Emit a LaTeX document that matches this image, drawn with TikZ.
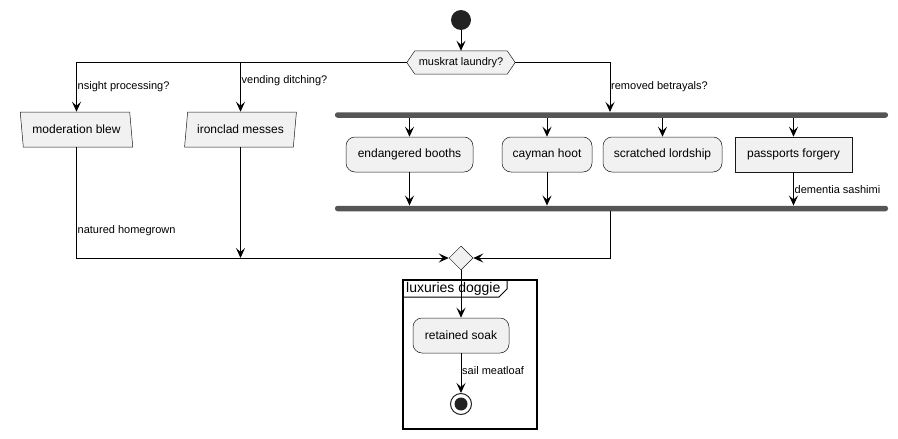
\documentclass[tikz,border=0pt]{standalone}
\usepackage{fontspec}
\setmainfont{Liberation Sans}
\usetikzlibrary{arrows.meta,shapes.geometric,calc}
\definecolor{boxfill}{HTML}{F1F1F1}
\definecolor{boxline}{HTML}{181818}
\definecolor{barcol}{HTML}{555555}
\definecolor{dotcol}{HTML}{222222}
\begin{document}
\begin{tikzpicture}[x=1pt,y=-1pt,
  actfont/.style={font=\fontsize{12}{14}\selectfont},
  lblfont/.style={font=\fontsize{11}{13}\selectfont},
  actbox/.style={draw=boxline, line width=0.5pt, fill=boxfill, rounded corners=9pt,
    minimum height=35pt, inner sep=0pt, actfont},
  plainbox/.style={draw=boxline, line width=0.5pt, fill=boxfill,
    minimum height=35pt, inner sep=0pt, actfont},
  inbox/.style={draw=boxline, line width=0.5pt, fill=boxfill, trapezium,
    trapezium stretches=true, minimum height=35pt, minimum width=113pt, inner sep=0pt, actfont},
  barnode/.style={fill=barcol, rounded corners=2.5pt, minimum width=553pt,
    minimum height=5.5pt, inner sep=0pt},
  lbl/.style={anchor=west, inner sep=1pt, lblfont},
  arr/.style={draw=black, line width=1pt, -{Stealth[length=10pt,width=9pt,inset=4pt]}},
  ln/.style={draw=black, line width=1pt},
]
\useasboundingbox (0,0) rectangle (898,439);

% start
\node[circle, fill=dotcol, minimum size=20pt, inner sep=0pt] (start) at (461,20) {};

% decision
\node[minimum width=108pt, minimum height=23pt, inner sep=0pt, lblfont] (dec) at (461,62.5) {muskrat laundry?};
\draw[draw=boxline, line width=0.5pt, fill=boxfill]
  (dec.west) -- ($(dec.north west)+(8,0)$) -- ($(dec.north east)+(-8,0)$) -- (dec.east)
  -- ($(dec.south east)+(-8,0)$) -- ($(dec.south west)+(8,0)$) -- cycle;
\node[lblfont] at (dec.center) {muskrat laundry?};

% left branches
\node[inbox, trapezium left angle=106, trapezium right angle=74] (mod) at (76.5,129.5) {moderation blew};
\node[inbox, trapezium left angle=74, trapezium right angle=106] (iron) at (240.5,129.5) {ironclad messes};

% bars
\node[barnode] (bar1) at (611.5,115) {};
\node[barnode] (bar2) at (611.5,208.5) {};

% parallel activities
\node[actbox, minimum width=127pt] (eb) at (409.5,154.5) {endangered booths};
\node[actbox, minimum width=90pt] (ch) at (547,154.5) {cayman hoot};
\node[actbox, minimum width=119pt] (sl) at (662.5,154.5) {scratched lordship};
\node[plainbox, minimum width=117pt] (pf) at (793.5,154.5) {passports forgery};

% merge
\node[diamond, draw=boxline, line width=0.5pt, fill=boxfill, minimum width=24pt, minimum height=24pt, inner sep=0pt] (merge) at (461,258) {};

% group
\node[draw=black, line width=2pt, minimum width=134pt, minimum height=149pt, inner sep=0pt] (grp) at (470,354.5) {};
\node[anchor=west, inner sep=0pt, font=\fontsize{14}{16}\selectfont] (gtitle) at (406,289) {luxuries doggie};
\draw[line width=1pt] ($(grp.north west)+(0,18)$) -- ($(grp.north west)+(97,18)$) -- ($(grp.north west)+(105,10)$) -- ($(grp.north west)+(105,0)$);

\node[actbox, minimum width=96pt] (rs) at (461,335.5) {retained soak};

% end
\node[circle, draw=dotcol, line width=1pt, fill=white, minimum size=21pt, inner sep=0pt] (stop) at (461,404) {};
\node[circle, fill=dotcol, minimum size=13pt, inner sep=0pt] (stopin) at (stop.center) {};

% coordinates
\coordinate (inR) at (610,112);
\coordinate (outR) at (610,211);

% connectors
\draw[arr] (start) -- (dec.north);
\draw[arr] (dec.west) -| (mod.north);
\draw[arr] (dec.west) -| (iron.north);
\draw[arr] (dec.east) -| (inR);

\draw[arr] (bar1.south -| eb.north) -- (eb.north);
\draw[arr] (bar1.south -| ch.north) -- (ch.north);
\draw[arr] (bar1.south -| sl.north) -- (sl.north);
\draw[arr] (bar1.south -| pf.north) -- (pf.north);

\draw[arr] (eb.south) -- (eb.south |- bar2.north);
\draw[arr] (ch.south) -- (ch.south |- bar2.north);
\draw[arr] (pf.south) -- (pf.south |- bar2.north);

\draw[arr] (mod.south) |- (merge.west);
\draw[arr] (iron.south) -- (iron.south |- merge.west);
\draw[arr] (outR) |- (merge.east);

\draw[arr] (merge.south) -- (rs.north);
\draw[arr] (rs.south) -- (stop.north);

% labels
\node[lbl] (l1) at (76.5,87) {nsight processing?};
\node[lbl] (l2) at (240.5,81) {vending ditching?};
\node[lbl] (l3) at (610,87) {removed betrayals?};
\node[lbl] (l4) at (793.5,190) {dementia sashimi};
\node[lbl] (l5) at (76.5,231) {natured homegrown};
\node[lbl] (l6) at (461,371) {sail meatloaf};
\end{tikzpicture}
\end{document}
